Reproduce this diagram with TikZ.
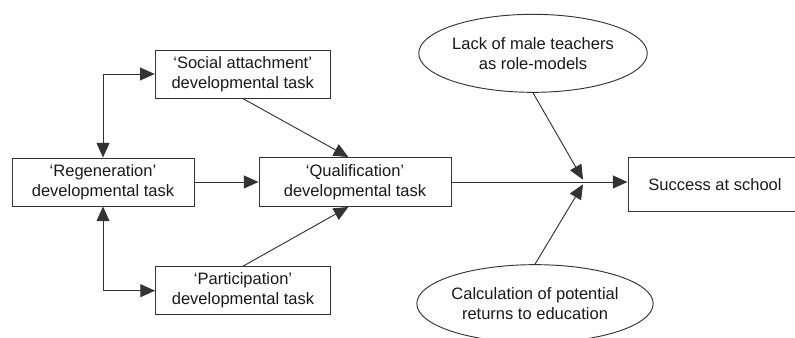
\documentclass[tikz,border=0pt]{standalone}
\usepackage{fontspec}
\setmainfont{Liberation Sans}
\usepackage{tikz}
\usetikzlibrary{positioning,arrows.meta,shapes.geometric}

\tikzset{
  task/.style={draw=black!80, line width=0.8pt, minimum width=5.25cm, minimum height=1.44cm,
               align=center, inner sep=2pt, text=black!90},
  factor/.style={ellipse, draw=black!80, line width=0.8pt, minimum width=6.6cm, minimum height=2.34cm,
                 align=center, inner sep=0pt, text=black!90},
  link/.style={draw=black!80, line width=0.8pt, -{Triangle[length=12.5pt,width=11pt]}},
  both/.style={draw=black!80, line width=0.8pt, {Triangle[length=12.5pt,width=11pt]}-{Triangle[length=12.5pt,width=11pt]}}
}

\begin{document}
\begin{tikzpicture}[on grid, font=\fontsize{14.1}{17}\selectfont]
  \useasboundingbox (0,0) rectangle (23.85,-10.14);
  \node[task,minimum width=5.46cm]        (reg)  at (3.09,-5.46) {`Regeneration'\\developmental task};
  \node[task]                              (soc)  [above right=3.24cm and 4.19cm of reg] {`Social attachment'\\developmental task};
  \node[task]                              (par)  [below right=3.26cm and 4.2cm of reg]  {`Participation'\\developmental task};
  \node[task,minimum width=5.76cm,minimum height=1.47cm] (qual) [right=7.56cm of reg] {`Qualification'\\developmental task};
  \coordinate[right=6.84cm of qual]        (j);
  \node[factor]                            (lack) [above right=3.86cm and 5.34cm of qual] {Lack of male teachers\\as role-models};
  \node[factor]                            (calc) [below right=3.65cm and 5.4cm of qual]  {Calculation of potential\\returns to education};
  \node[task,minimum width=5.22cm,minimum height=1.62cm] (succ) [right=10.8cm of qual, yshift=-0.08cm] {Success at school};

  \path (soc.west) edge[both, to path={-| (\tikztotarget)}] (reg.north)
        (reg.south) edge[both, to path={|- (\tikztotarget)}] (par.west)
        (reg)       edge[link] (qual)
        (soc.south) edge[link] ([xshift=-0.2cm]qual.north)
        (par.north) edge[link] ([xshift=-0.2cm]qual.south)
        (qual.east) edge[draw=black!80, line width=0.8pt] (j)
        (lack.south) edge[link] ([yshift=0.07cm]j)
        (calc.north) edge[link] ([yshift=-0.07cm]j)
        (j)          edge[link] (j -| succ.west);
\end{tikzpicture}
\end{document}
